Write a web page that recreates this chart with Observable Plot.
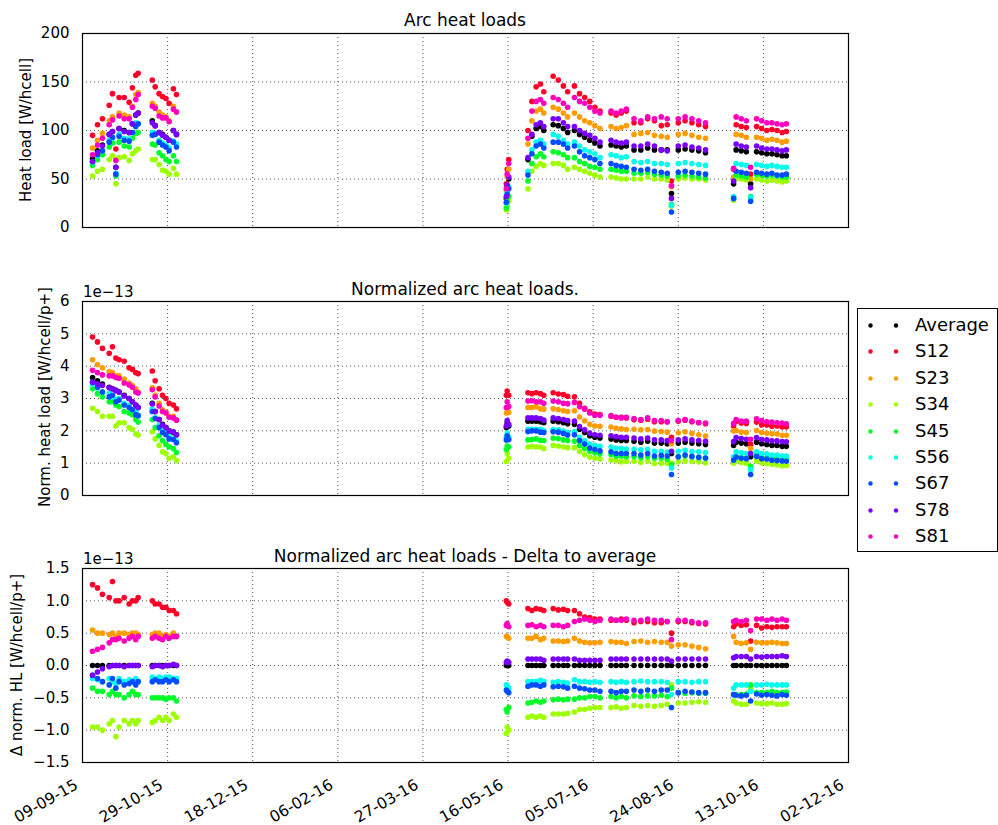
<!DOCTYPE html>
<html><head><meta charset="utf-8">
<script src="https://cdn.jsdelivr.net/npm/d3@7"></script>
<script src="https://cdn.jsdelivr.net/npm/@observablehq/plot@0.6"></script>
<style>
body{margin:0;background:#fff;font-family:"DejaVu Sans",sans-serif;}
#root{position:relative;width:998px;height:825px;overflow:hidden;background:#fff;}
.panel{position:absolute;left:0;}
#overlay{position:absolute;left:0;top:0;pointer-events:none;}
#legend{position:absolute;left:857px;top:308px;width:141px;height:244px;border:1px solid #000;box-sizing:border-box;background:#fff;}
.lrow{position:absolute;left:0;height:26px;width:140px;}
.lrow svg{position:absolute;left:0;top:0;}
.lrow span{position:absolute;left:57px;top:1px;font-size:18px;line-height:22px;color:#000;}
</style></head><body><div id="root"></div>
<script>
// ---- data ----
const startDate = "2015-09-09";
// days since start date for each measurement
const day = [5.9,8.8,11.7,15.7,17.6,19.6,21.5,24.5,27.4,29.3,31.3,32.7,41,42.7,45,47,49,50.9,53.4,55.2,
 249,249.5,250.4,261.7,264,266.5,269,271,276.5,279.5,282.5,285,289,292,295,298,301,304,310.5,313.5,316.5,319.5,
 324,328,332,336,340,343.5,346,350,354,358,362,366,382.5,384,387,390,392.5,396,399,402,405,408,411,413.5];

const seriesNames = ["Average","S12","S23","S34","S45","S56","S67","S78","S81"];
const seriesColors = ["#000000","#ff0029","#ff9c00","#9dff00","#00ff28","#00ffea","#004dff","#7900ff","#ff00bf"];
const xTickDates = ["2015-09-09","2015-10-29","2015-12-18","2016-02-06","2016-03-27","2016-05-16","2016-07-05","2016-08-24","2016-10-13","2016-12-02"];
const hlTicks = [0,50,100,150,200];
const normTicks = [0,1,2,3,4,5,6];
const deltaTicks = [-1.5,-1.0,-0.5,0.0,0.5,1.0,1.5];

// Panel 1: heat loads [W/hcell]
const hlAvg = [71,79,85,96,99,62,102,100,98,107,116,118,110,105,98,96,93,90,100,96,
 30,42,50,70,94,102,104,100,106,105,102,98,100,96,93,90,87,84,85,84,83,84,80,80,82,80,80,80,35,80,81,80,79,77,45,80,79,78,45,78,77,76,76,75,74,74];
const hlS12 = [95,106,112,126,138,81,134,134,129,144,157,159,152,145,138,135,133,128,143,137,
 45,60,70,100,130,145,148,140,156,152,146,140,146,138,134,130,124,120,118,116,118,120,108,108,112,110,105,106,48,108,110,108,106,104,60,106,104,103,55,104,102,100,101,100,98,99];
const hlS23 = [82,90,97,110,114,70,118,116,114,125,137,139,128,125,119,116,114,110,125,119,
 38,52,60,86,110,120,122,118,124,122,118,114,118,114,110,108,105,102,104,102,103,105,96,97,98,95,94,93,42,96,97,95,93,92,52,96,95,93,50,93,92,90,91,90,88,89];
const hlS34 = [53,58,60,70,74,45,72,73,69,76,79,81,70,70,65,59,58,55,61,55,
 18,22,27,40,58,63,66,64,66,66,64,60,62,60,58,56,54,52,52,51,50,50,50,50,52,50,50,49,22,50,51,50,50,49,28,50,50,49,30,50,49,48,49,48,47,48];
const hlS45 = [64,70,75,83,87,53,88,84,83,92,97,98,86,85,77,74,70,68,74,68,
 20,28,32,48,66,73,76,73,78,77,75,72,72,68,66,63,62,60,60,59,58,58,56,56,57,55,54,53,24,53,54,53,52,51,30,54,53,52,32,55,54,53,54,53,52,52];
const hlS56 = [67,74,79,90,92,56,96,92,91,98,108,107,98,97,90,87,85,82,89,86,
 25,36,42,58,80,88,90,86,96,94,90,86,88,84,80,78,76,72,75,74,72,73,68,67,68,66,66,65,23,66,67,66,65,64,32,66,65,64,31,65,64,63,64,63,62,62];
const hlS67 = [68,75,79,88,93,55,94,90,89,98,104,107,95,96,88,85,83,79,88,83,
 26,34,40,54,76,84,86,82,88,88,86,82,84,78,74,72,70,66,66,64,63,62,60,59,60,58,57,56,16,57,58,57,56,55,30,58,57,56,27,57,56,55,56,54,54,55];
const hlS78 = [68,77,84,96,99,62,102,99,98,107,116,118,108,105,98,95,93,90,100,96,
 32,44,52,72,96,106,108,104,112,112,108,104,104,100,97,95,92,88,90,88,87,88,84,84,86,84,80,79,30,84,85,83,82,80,48,86,84,83,41,84,82,81,81,80,79,80];
const hlS81 = [75,85,92,106,111,69,115,112,112,124,132,137,125,123,115,113,113,109,122,119,
 40,55,66,92,120,130,132,128,134,132,128,124,134,130,128,124,120,118,120,118,120,122,112,110,114,112,114,112,43,112,114,112,110,108,61,114,112,110,62,112,110,108,108,107,106,107];

// Panel 2: normalized heat loads [1e-13 W/hcell/p+]
const normAvg = [3.65,3.55,3.45,3.35,3.3,3.25,3.2,3.1,3.0,2.9,2.8,2.72,2.85,2.6,2.35,2.2,2.1,2.0,1.95,1.88,
 2.1,2.25,2.15,2.3,2.3,2.3,2.28,2.25,2.3,2.28,2.25,2.22,2.2,2.05,1.95,1.85,1.8,1.78,1.75,1.72,1.7,1.7,1.68,1.65,1.68,1.62,1.62,1.6,1.3,1.62,1.65,1.62,1.6,1.58,1.55,1.65,1.62,1.6,1.2,1.65,1.6,1.58,1.55,1.55,1.52,1.52];
const normS12 = [4.90,4.75,4.55,4.40,4.60,4.25,4.20,4.15,3.95,3.90,3.80,3.77,3.85,3.55,3.30,3.10,3.00,2.85,2.80,2.68,
 3.10,3.23,3.10,3.18,3.15,3.18,3.15,3.10,3.18,3.14,3.12,3.07,3.05,2.85,2.70,2.59,2.52,2.50,2.45,2.42,2.42,2.40,2.34,2.33,2.36,2.28,2.28,2.28,1.80,2.30,2.33,2.28,2.25,2.22,2.15,2.29,2.24,2.23,1.58,2.27,2.18,2.18,2.14,2.15,2.12,2.12];
const normS23 = [4.20,4.05,3.95,3.83,3.80,3.70,3.70,3.60,3.48,3.40,3.30,3.20,3.33,3.10,2.85,2.65,2.58,2.45,2.45,2.33,
 2.55,2.70,2.57,2.72,2.72,2.75,2.68,2.67,2.68,2.66,2.62,2.60,2.62,2.43,2.31,2.20,2.15,2.14,2.12,2.08,2.06,2.04,2.05,2.03,2.04,1.99,1.98,1.96,1.60,1.94,1.97,1.92,1.88,1.84,2.00,2.01,1.96,1.95,1.45,2.01,1.95,1.93,1.91,1.90,1.86,1.86];
const normS34 = [2.70,2.60,2.45,2.45,2.45,2.15,2.25,2.25,2.10,2.05,1.90,1.87,1.97,1.75,1.55,1.35,1.30,1.15,1.20,1.08,
 1.05,1.30,1.15,1.50,1.52,1.50,1.50,1.45,1.55,1.53,1.50,1.48,1.48,1.37,1.27,1.19,1.15,1.13,1.10,1.08,1.04,1.05,1.06,1.02,1.06,0.99,1.00,1.00,1.00,1.04,1.07,1.05,1.04,1.01,1.00,1.07,1.02,1.00,0.85,1.07,1.01,0.99,0.97,0.95,0.92,0.93];
const normS45 = [3.30,3.15,3.05,2.90,2.90,2.80,2.75,2.60,2.55,2.50,2.35,2.27,2.35,2.10,1.85,1.70,1.58,1.50,1.45,1.33,
 1.42,1.53,1.50,1.72,1.73,1.75,1.71,1.70,1.77,1.76,1.72,1.70,1.68,1.55,1.45,1.37,1.32,1.28,1.27,1.22,1.22,1.20,1.21,1.17,1.21,1.15,1.16,1.12,0.95,1.20,1.22,1.20,1.17,1.15,1.10,1.20,1.17,1.16,0.90,1.23,1.18,1.16,1.15,1.13,1.10,1.11];
const normS56 = [3.45,3.33,3.20,3.15,3.05,2.97,3.00,2.85,2.78,2.65,2.60,2.47,2.67,2.40,2.17,2.00,1.92,1.82,1.75,1.68,
 1.80,1.93,1.80,2.05,2.05,2.05,2.05,2.00,2.04,2.03,1.99,1.95,1.98,1.80,1.70,1.59,1.55,1.52,1.50,1.46,1.45,1.44,1.43,1.41,1.43,1.37,1.37,1.34,0.85,1.37,1.40,1.36,1.35,1.33,1.20,1.35,1.32,1.30,0.80,1.35,1.30,1.29,1.25,1.25,1.22,1.22];
const normS67 = [3.50,3.35,3.20,3.05,3.10,2.90,2.95,2.80,2.72,2.65,2.50,2.47,2.60,2.38,2.10,1.95,1.88,1.75,1.73,1.63,
 1.72,1.85,1.73,1.98,2.00,2.00,1.96,1.95,1.97,1.96,1.92,1.87,1.88,1.70,1.59,1.47,1.42,1.38,1.35,1.30,1.30,1.30,1.30,1.25,1.30,1.22,1.24,1.22,0.65,1.20,1.25,1.21,1.18,1.16,1.10,1.19,1.15,1.14,0.65,1.21,1.14,1.13,1.09,1.08,1.07,1.06];
const normS78 = [3.50,3.45,3.40,3.33,3.30,3.25,3.20,3.08,3.00,2.90,2.80,2.72,2.83,2.60,2.35,2.18,2.10,2.00,1.97,1.88,
 2.15,2.32,2.20,2.40,2.40,2.40,2.38,2.33,2.40,2.38,2.35,2.32,2.30,2.13,2.03,1.93,1.88,1.86,1.85,1.82,1.80,1.80,1.78,1.75,1.78,1.72,1.72,1.70,1.37,1.72,1.75,1.72,1.70,1.68,1.67,1.79,1.76,1.74,1.30,1.79,1.73,1.72,1.69,1.69,1.67,1.66];
const normS81 = [3.87,3.80,3.73,3.70,3.70,3.65,3.62,3.48,3.42,3.35,3.20,3.17,3.27,3.05,2.77,2.60,2.55,2.42,2.40,2.33,
 2.72,2.90,2.75,2.92,2.93,2.90,2.90,2.85,2.92,2.90,2.85,2.84,2.88,2.75,2.67,2.55,2.48,2.48,2.47,2.42,2.40,2.42,2.38,2.35,2.40,2.32,2.32,2.28,1.70,2.32,2.35,2.30,2.26,2.24,2.23,2.35,2.30,2.30,1.74,2.37,2.32,2.28,2.27,2.25,2.24,2.22];

// Panel 3: delta to average [1e-13 W/hcell/p+]
const deltaAvg = [0,0,0,0,0,0,0,0,0,0,0,0,0,0,0,0,0,0,0,0,
 0,0,0,0,0,0,0,0,0,0,0,0,0,0,0,0,0,0,0,0,0,0,0,0,0,0,0,0,0,0,0,0,0,0,0,0,0,0,0,0,0,0,0,0,0,0];
const deltaS12 = [1.25,1.2,1.1,1.05,1.3,1.0,1.0,1.05,0.95,1.0,1.0,1.05,1.0,0.95,0.95,0.9,0.9,0.85,0.85,0.8,
 1.0,0.98,0.95,0.88,0.85,0.88,0.87,0.85,0.88,0.86,0.87,0.85,0.85,0.8,0.75,0.74,0.72,0.72,0.7,0.7,0.72,0.7,0.66,0.68,0.68,0.66,0.66,0.68,0.5,0.68,0.68,0.66,0.65,0.64,0.6,0.64,0.62,0.63,0.38,0.62,0.58,0.6,0.59,0.6,0.6,0.6];
const deltaS23 = [0.55,0.5,0.5,0.48,0.5,0.45,0.5,0.5,0.48,0.5,0.5,0.48,0.48,0.5,0.5,0.45,0.48,0.45,0.5,0.45,
 0.45,0.45,0.42,0.42,0.42,0.45,0.4,0.42,0.38,0.38,0.37,0.38,0.42,0.38,0.36,0.35,0.35,0.36,0.37,0.36,0.36,0.34,0.37,0.38,0.36,0.37,0.36,0.36,0.3,0.32,0.32,0.3,0.28,0.26,0.45,0.36,0.34,0.35,0.25,0.36,0.35,0.35,0.36,0.35,0.34,0.34];
const deltaS34 = [-0.95,-0.95,-1.0,-0.9,-0.85,-1.1,-0.95,-0.85,-0.9,-0.85,-0.9,-0.85,-0.88,-0.85,-0.8,-0.85,-0.8,-0.85,-0.75,-0.8,
 -1.05,-0.95,-1.0,-0.8,-0.78,-0.8,-0.78,-0.8,-0.75,-0.75,-0.75,-0.74,-0.72,-0.68,-0.68,-0.66,-0.65,-0.65,-0.65,-0.64,-0.66,-0.65,-0.62,-0.63,-0.62,-0.63,-0.62,-0.6,-0.3,-0.58,-0.58,-0.57,-0.56,-0.57,-0.55,-0.58,-0.6,-0.6,-0.35,-0.58,-0.59,-0.59,-0.58,-0.6,-0.6,-0.59];
const deltaS45 = [-0.35,-0.4,-0.4,-0.45,-0.4,-0.45,-0.45,-0.5,-0.45,-0.4,-0.45,-0.45,-0.5,-0.5,-0.5,-0.5,-0.52,-0.5,-0.5,-0.55,
 -0.68,-0.72,-0.65,-0.58,-0.57,-0.55,-0.57,-0.55,-0.53,-0.52,-0.53,-0.52,-0.52,-0.5,-0.5,-0.48,-0.48,-0.5,-0.48,-0.5,-0.48,-0.5,-0.47,-0.48,-0.47,-0.47,-0.46,-0.48,-0.35,-0.42,-0.43,-0.42,-0.43,-0.43,-0.45,-0.45,-0.45,-0.44,-0.3,-0.42,-0.42,-0.42,-0.4,-0.42,-0.42,-0.41];
const deltaS56 = [-0.2,-0.22,-0.25,-0.2,-0.25,-0.28,-0.2,-0.25,-0.22,-0.25,-0.2,-0.25,-0.18,-0.2,-0.18,-0.2,-0.18,-0.18,-0.2,-0.2,
 -0.3,-0.32,-0.35,-0.25,-0.25,-0.25,-0.23,-0.25,-0.26,-0.25,-0.26,-0.27,-0.22,-0.25,-0.25,-0.26,-0.25,-0.26,-0.25,-0.26,-0.25,-0.26,-0.25,-0.24,-0.25,-0.25,-0.25,-0.26,-0.45,-0.25,-0.25,-0.26,-0.25,-0.25,-0.35,-0.3,-0.3,-0.3,-0.4,-0.3,-0.3,-0.29,-0.3,-0.3,-0.3,-0.3];
const deltaS67 = [-0.15,-0.2,-0.25,-0.3,-0.2,-0.35,-0.25,-0.3,-0.28,-0.25,-0.3,-0.25,-0.25,-0.22,-0.25,-0.25,-0.22,-0.25,-0.22,-0.25,
 -0.38,-0.4,-0.42,-0.32,-0.3,-0.3,-0.32,-0.3,-0.33,-0.32,-0.33,-0.35,-0.32,-0.35,-0.36,-0.38,-0.38,-0.4,-0.4,-0.42,-0.4,-0.4,-0.38,-0.4,-0.38,-0.4,-0.38,-0.38,-0.65,-0.42,-0.4,-0.41,-0.42,-0.42,-0.45,-0.46,-0.47,-0.46,-0.55,-0.44,-0.46,-0.45,-0.46,-0.47,-0.45,-0.46];
const deltaS78 = [-0.15,-0.1,-0.05,-0.02,0.0,0.0,0.0,-0.02,0.0,0.0,0.0,0.0,-0.02,0.0,0.0,-0.02,0.0,0.0,0.02,0.0,
 0.05,0.07,0.05,0.1,0.1,0.1,0.1,0.08,0.1,0.1,0.1,0.1,0.1,0.08,0.08,0.08,0.08,0.08,0.1,0.1,0.1,0.1,0.1,0.1,0.1,0.1,0.1,0.1,0.07,0.1,0.1,0.1,0.1,0.1,0.12,0.14,0.14,0.14,0.1,0.14,0.13,0.14,0.14,0.14,0.15,0.14];
const deltaS81 = [0.22,0.25,0.28,0.35,0.4,0.4,0.42,0.38,0.42,0.45,0.4,0.45,0.42,0.45,0.42,0.4,0.45,0.42,0.45,0.45,
 0.62,0.65,0.6,0.62,0.63,0.6,0.62,0.6,0.62,0.62,0.6,0.62,0.68,0.7,0.72,0.7,0.68,0.7,0.72,0.7,0.7,0.72,0.7,0.7,0.72,0.7,0.7,0.68,0.4,0.7,0.7,0.68,0.66,0.66,0.68,0.7,0.68,0.7,0.54,0.72,0.72,0.7,0.72,0.7,0.72,0.7];

// ---- drawing ----
const t0 = new Date(startDate).getTime();
const toDate = d => new Date(t0 + d * 86400000);
const xTicks = xTickDates.map(s => new Date(s));
const xDomain = [xTicks[0], xTicks[xTicks.length - 1]];
const fmtDate = d3.utcFormat("%d-%m-%y");
const FONT = "DejaVu Sans";
const root = document.getElementById("root");

function dotsFor(values, color) {
  const data = day.map((d, i) => ({date: toDate(d), v: values[i]}));
  return Plot.dot(data, {x: "date", y: "v", r: 2.8, fill: color});
}

function panel(top, seriesValues, yDomain, yTicks, yFmt, withX) {
  const marks = [
    Plot.gridX(xTicks, {stroke: "#555", strokeOpacity: 1, strokeDasharray: "1,3"}),
    Plot.gridY(yTicks, {stroke: "#555", strokeOpacity: 1, strokeDasharray: "1,3"}),
    ...seriesValues.map((v, k) => dotsFor(v, seriesColors[k])),
    Plot.frame({stroke: "#000", strokeWidth: 1.2}),
    Plot.axisY(yTicks, {tickSize: 0, tickPadding: 13, tickFormat: yFmt, fontSize: 15, label: null})
  ];
  if (withX) marks.push(Plot.axisX(xTicks, {tickSize: 0, tickPadding: 21, dx: -6, tickRotate: -30, tickFormat: fmtDate, fontSize: 15.5, label: null}));
  const svg = Plot.plot({
    width: 998, height: withX ? 290 : 231,
    marginLeft: 82, marginRight: 150, marginTop: 33, marginBottom: withX ? 63 : 4,
    style: {fontFamily: FONT, fontSize: "15px", color: "#000", background: "transparent", overflow: "visible"},
    x: {type: "utc", domain: xDomain, axis: withX ? undefined : null},
    y: {domain: yDomain},
    marks
  });
  const div = document.createElement("div");
  div.className = "panel";
  div.style.top = top + "px";
  div.appendChild(svg);
  root.appendChild(div);
}

panel(0, [hlAvg, hlS12, hlS23, hlS34, hlS45, hlS56, hlS67, hlS78, hlS81], [0, 200], hlTicks, d => String(d), false);
panel(268, [normAvg, normS12, normS23, normS34, normS45, normS56, normS67, normS78, normS81], [0, 6], normTicks, d => String(d), false);
panel(535, [deltaAvg, deltaS12, deltaS23, deltaS34, deltaS45, deltaS56, deltaS67, deltaS78, deltaS81], [-1.5, 1.5], deltaTicks, d3.format(".1f"), true);

// titles, axis labels, offset texts
const ns = "http://www.w3.org/2000/svg";
const ov = document.createElementNS(ns, "svg");
ov.setAttribute("id", "overlay");
ov.setAttribute("width", 998); ov.setAttribute("height", 825);
ov.style.fontFamily = FONT;
function txt(s, x, y, size, anchor, rot) {
  const t = document.createElementNS(ns, "text");
  t.textContent = s;
  t.setAttribute("x", x); t.setAttribute("y", y);
  t.setAttribute("font-size", size);
  t.setAttribute("text-anchor", anchor);
  t.setAttribute("fill", "#000");
  if (rot) t.setAttribute("transform", `rotate(${rot},${x},${y})`);
  ov.appendChild(t);
}
txt("Arc heat loads", 465, 26, 17, "middle");
txt("Normalized arc heat loads.", 465, 295, 17, "middle");
txt("Normalized arc heat loads - Delta to average", 465, 562, 17, "middle");
txt("1e\u221213", 83, 297, 15, "start");
txt("1e\u221213", 83, 564, 15, "start");
txt("Heat load [W/hcell]", 30.5, 130, 15, "middle", -90);
txt("Norm. heat load [W/hcell/p+]", 49.5, 397, 15, "middle", -90);
txt("\u0394 norm. HL [W/hcell/p+]", 21.5, 665, 15, "middle", -90);
root.appendChild(ov);

// legend
const lg = document.createElement("div");
lg.id = "legend";
seriesNames.forEach((name, k) => {
  const row = document.createElement("div");
  row.className = "lrow";
  row.style.top = (4 + k * 26.4) + "px";
  row.innerHTML = `<svg width="50" height="26"><circle cx="12.5" cy="12.5" r="2.2" fill="${seriesColors[k]}"/><circle cx="38" cy="12.5" r="2.2" fill="${seriesColors[k]}"/></svg><span>${name}</span>`;
  lg.appendChild(row);
});
root.appendChild(lg);
</script></body></html>
